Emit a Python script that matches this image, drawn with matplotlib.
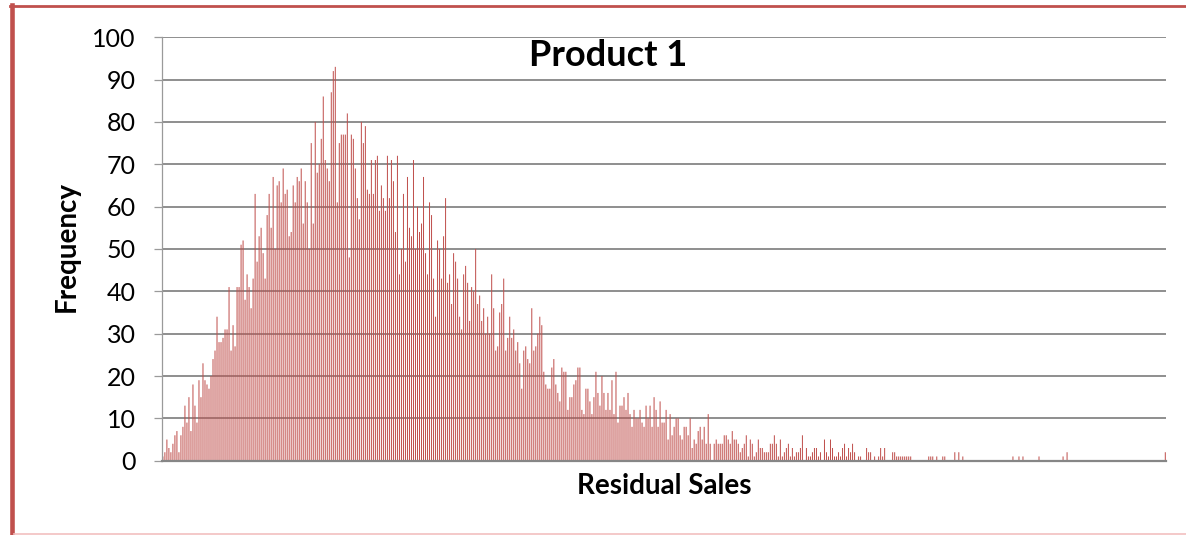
import matplotlib
matplotlib.use("Agg")
import matplotlib.pyplot as plt
import numpy as np
from matplotlib.lines import Line2D

plt.rcParams['font.family'] = ['Lato', 'DejaVu Sans']

# frequency per residual-sales bin, left to right
freq = [
    1, 2, 5, 3, 2, 4, 6, 7, 2, 6,
    8, 13, 9, 15, 7, 18, 13, 9, 19, 15,
    23, 19, 18, 17, 20, 24, 26, 34, 28, 28,
    29, 31, 31, 41, 26, 32, 27, 41, 41, 51,
    52, 38, 44, 41, 36, 43, 63, 47, 53,
    55, 49, 43, 58, 63, 55, 67, 50, 65, 66,
    61, 69, 63, 64, 53, 54, 65, 61, 67, 66,
    69, 56, 66, 61, 50, 75, 56, 80, 68, 70,
    76, 86, 71, 69, 66, 87, 92, 93, 61, 75,
    77, 77, 77, 82, 48, 77, 76, 69, 62, 57,
    80, 75, 79, 64, 63, 71, 63, 71, 72, 59,
    65, 62, 59, 72, 62, 71, 66, 54, 72, 44,
    50, 63, 47, 67, 55, 53, 71, 50, 60, 54,
    56, 67, 49, 44, 61, 58, 43, 34, 52, 50,
    43, 53, 62, 42, 44, 37, 49, 47, 43, 34,
    31, 44, 46, 42, 33, 41, 40, 50, 37, 39,
    33, 36, 30, 34,
    30, 44, 36, 26, 27, 35, 37, 43, 26, 29,
    34, 29, 31, 26, 28, 23, 17, 26, 27, 24,
    23, 36, 26, 27, 30, 34, 32, 21, 18, 17,
    17, 22, 24, 18, 16, 14, 22, 21, 21, 12,
    15, 15, 18, 19, 22, 22, 12, 11, 17, 17,
    14, 11, 15, 21, 16, 13,
    20, 16, 12, 16, 12, 19, 11, 21, 9, 13,
    13, 15, 12, 16, 11, 8, 12, 10, 10, 12,
    9, 8, 13, 10, 13, 8, 15, 12, 8, 14,
    9, 9, 12, 5, 11, 6, 8, 10, 10, 6,
    5, 8, 8, 6, 10, 3, 5, 4, 7, 8,
    5, 8, 4, 11,
    4, 0, 4, 5, 4, 4, 4, 6, 6, 5,
    4, 7, 5, 5, 4, 2, 3, 4, 6, 1,
    5, 4, 1, 2, 5, 3, 3, 2, 2, 2,
    4, 4, 6, 4, 1, 5, 1, 2, 3, 4,
    1, 3, 1, 2, 2, 3, 6, 0, 3, 1,
    1, 2, 3, 3, 1, 2, 0, 5, 2, 1,
    5, 3, 1, 1, 2,
    1, 3, 4, 1, 3, 2, 4, 2, 0, 1,
    1, 0, 0, 3, 2, 2, 0, 1, 0, 1,
    3, 1, 3, 0, 0, 0, 2, 2, 1, 1,
    1, 1, 1, 1, 1, 1, 0, 0, 0, 0,
    0, 0, 0, 0, 1, 1, 1, 0, 1, 0,
    0, 1, 1, 0, 0, 0, 0, 2, 0, 2,
    0, 1, 0, 0, 0, 0, 0, 0, 0, 0,
    0, 0, 0, 0, 0, 0, 0, 0, 0, 0,
    0, 0, 0, 0, 0, 0, 1, 0, 0, 1,
    0, 1, 0, 0, 0, 0, 0, 0, 0, 1,
    0, 0, 0, 0, 0, 0, 0, 0, 0, 0,
    0, 1, 0, 2, 0, 0, 0, 0, 0, 0,
    0, 0, 0, 0, 0, 0, 0, 0, 0, 0,
    0, 0, 0, 0, 0, 0, 0, 0, 0, 0,
    0, 0, 0, 0, 0, 0, 0, 0, 0, 0,
    0, 0, 0, 0, 0, 0, 0, 0, 0, 0,
    0, 0, 2,
]
yticks = list(range(0, 101, 10))
title = "Product 1"
xlabel = "Residual Sales"
ylabel = "Frequency"

W, H = 1186, 535
fig = plt.figure(figsize=(W / 100, H / 100), dpi=100)
ax_left, ax_right = 161.88, 1166.31
ax = fig.add_axes([ax_left / W, 1 - 460.7 / H, (ax_right - ax_left) / W, (460.7 - 37.2) / H])

x = np.arange(len(freq))
# thin bars, left unsnapped so they blend across pixel columns
ax.bar(x, freq, width=0.5, color="#C0504D", linewidth=0, snap=False)
ax.set_xlim(-0.5, len(freq) - 0.5)
ax.set_ylim(0, 100)
ax.set_yticks(yticks)
ax.set_xticks([])
ax.yaxis.grid(True, color="#868686", linewidth=1.3)
ax.set_axisbelow(True)
for s in ("top", "right"):
    ax.spines[s].set_visible(False)
ax.spines["left"].set_color("#9A9A9A")
ax.spines["left"].set_linewidth(0.9)
ax.spines["bottom"].set_color("#868686")
ax.spines["bottom"].set_linewidth(1.6)
ax.tick_params(axis="y", length=6, width=0.9, color="#9A9A9A", pad=13, labelsize=18)

fig.text(608 / W, 1 - 55 / H, title, ha="center", va="center", fontsize=26, fontweight="bold")
fig.text(664 / W, 1 - 486 / H, xlabel, ha="center", va="center", fontsize=20, fontweight="bold")
fig.text(67 / W, 1 - 247 / H, ylabel, ha="center", va="center", rotation=90, fontsize=20, fontweight="bold")

# chart frame
red = "#C0504D"
fig.add_artist(Line2D([10 / W, 1], [1 - 6.3 / H] * 2, color=red, lw=2.0, transform=fig.transFigure))
fig.add_artist(Line2D([12.3 / W] * 2, [0, 1 - 5.3 / H], color=red, lw=3.3, transform=fig.transFigure))
fig.add_artist(Line2D([14 / W, 1], [1 - 534 / H] * 2, color="#F2C0C0", lw=1.2, transform=fig.transFigure))

fig.savefig("out.png", dpi=100)
